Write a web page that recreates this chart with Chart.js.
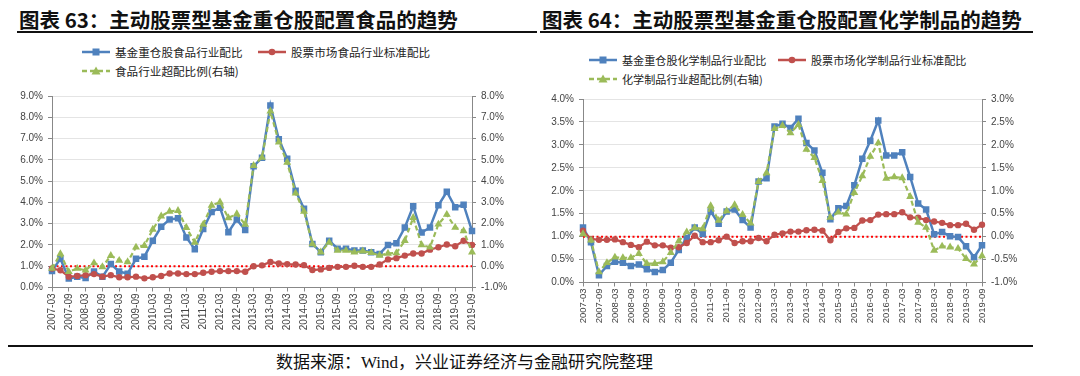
<!DOCTYPE html>
<html>
<head>
<meta charset="utf-8">
<script src="https://cdn.jsdelivr.net/npm/chart.js@4.4.0/dist/chart.umd.min.js"></script>
<style>
  body { margin: 0; width: 1080px; height: 376px; background: #fff; position: relative; overflow: hidden;
         font-family: "Noto Sans CJK SC", sans-serif; }
  .title { position: absolute; top: 5px; font-size: 20.5px; font-weight: 700; color: #111; white-space: nowrap; line-height: 28px; }
  .rule { position: absolute; height: 2px; background: #111; }
  .leg { position: absolute; display: flex; align-items: center; white-space: nowrap; color: #222; height: 16px; }
  .leg svg { margin-right: 5px; }
  .box { position: absolute; }
  .source { position: absolute; left: 276px; top: 348px; font-size: 17px; color: #111; white-space: nowrap;
            font-family: "Liberation Serif", "Noto Sans CJK SC", serif; }
</style>
</head>
<body>
<div class="title" style="left:19px">图表 63：主动股票型基金重仓股配置食品的趋势</div>
<div class="title" style="left:542px">图表 64：主动股票型基金重仓股配置化学制品的趋势</div>
<div class="rule" style="left:17px; top:31px; width:520px"></div>
<div class="rule" style="left:540px; top:31px; width:493px"></div>
<div class="rule" style="left:8px; top:345px; width:1025px"></div>
<div id="legends"></div>
<div class="box" style="left:0; top:85px"><canvas id="food" width="535" height="260"></canvas></div>
<div class="box" style="left:540px; top:88px"><canvas id="chem" width="540" height="258"></canvas></div>
<div class="source">数据来源：Wind，兴业证券经济与金融研究院整理</div>

<script>
// quarterly categories, 2007-03 .. 2019-09
const quarters = [
  '2007-03','2007-06','2007-09','2007-12','2008-03','2008-06','2008-09','2008-12',
  '2009-03','2009-06','2009-09','2009-12','2010-03','2010-06','2010-09','2010-12',
  '2011-03','2011-06','2011-09','2011-12','2012-03','2012-06','2012-09','2012-12',
  '2013-03','2013-06','2013-09','2013-12','2014-03','2014-06','2014-09','2014-12',
  '2015-03','2015-06','2015-09','2015-12','2016-03','2016-06','2016-09','2016-12',
  '2017-03','2017-06','2017-09','2017-12','2018-03','2018-06','2018-09','2018-12',
  '2019-03','2019-06','2019-09'
];

// 食品 (%)
const foodFund = [0.78,1.35,0.42,0.5,0.45,0.75,0.5,1.1,0.75,0.65,1.35,1.45,2.2,2.85,3.2,3.25,2.35,1.8,2.75,3.55,
  3.75,2.6,3.2,2.7,5.7,6.1,8.55,6.97,6.05,4.55,3.7,2.05,1.66,2.2,1.82,1.82,1.74,1.74,1.66,1.58,
  2.0,2.08,2.82,3.82,2.58,2.82,3.86,4.5,3.77,3.89,2.66];
const foodMarket = [0.89,0.81,0.51,0.54,0.58,0.63,0.51,0.58,0.48,0.48,0.51,0.43,0.48,0.54,0.66,0.66,0.63,0.63,0.69,0.74,
  0.77,0.77,0.77,0.74,1.0,1.04,1.2,1.13,1.1,1.08,1.05,0.82,0.85,0.92,0.97,0.97,1.02,0.97,0.97,1.08,
  1.32,1.38,1.5,1.6,1.6,1.78,1.89,2.02,1.94,2.2,2.0];
const foodOver = [-0.11,0.58,-0.26,-0.11,-0.19,0.15,-0.03,0.5,0.27,0.2,0.89,0.97,1.73,2.35,2.58,2.61,1.81,1.12,1.96,2.86,
  3.01,2.27,2.46,1.96,4.73,5.11,7.28,5.83,4.88,3.43,2.58,1.05,0.66,1.12,0.74,0.74,0.66,0.71,0.63,0.51,
  0.6,0.62,1.2,2.28,1.0,0.89,1.97,2.43,1.82,1.66,0.66];

// 化学制品 (%)
const chemFund = [1.2,0.88,0.16,0.36,0.45,0.43,0.36,0.39,0.29,0.23,0.27,0.43,0.71,0.97,1.2,1.06,1.55,1.28,1.55,1.59,
  1.36,1.2,2.2,2.27,3.4,3.46,3.37,3.57,3.04,2.88,2.39,1.38,1.62,1.67,2.12,2.7,3.09,3.53,2.77,2.77,
  2.84,2.3,1.72,1.59,1.05,1.1,1.01,0.99,0.79,0.55,0.81];
const chemMarket = [1.13,0.95,0.93,0.93,0.94,0.88,0.82,0.77,0.89,0.81,0.81,0.76,0.77,0.86,1.02,0.88,0.88,0.92,1.0,0.86,
  0.9,0.9,0.97,0.9,1.04,1.07,1.11,1.11,1.14,1.15,1.13,0.92,1.1,1.18,1.19,1.35,1.36,1.48,1.49,1.49,
  1.53,1.42,1.41,1.36,1.33,1.3,1.25,1.25,1.28,1.15,1.26];
const chemOver = [0.06,-0.08,-0.77,-0.57,-0.45,-0.46,-0.46,-0.37,-0.59,-0.59,-0.55,-0.35,-0.1,0.1,0.19,0.17,0.67,0.35,0.56,0.69,
  0.48,0.29,1.2,1.39,2.35,2.42,2.26,2.44,1.9,1.72,1.22,0.42,0.53,0.49,0.96,1.32,1.75,2.04,1.27,1.3,
  1.28,0.87,0.31,0.2,-0.3,-0.21,-0.23,-0.26,-0.48,-0.6,-0.42];

const foodNames = ['基金重仓股食品行业配比', '股票市场食品行业标准配比', '食品行业超配比例(右轴)'];
const chemNames = ['基金重仓股化学制品行业配比', '股票市场化学制品行业标准配比', '化学制品行业超配比例(右轴)'];

const refValue = 0; // red dotted line on the right axis

const BLUE = '#4f81bd', RED = '#c0504d', GREEN = '#9bbb59';

// legend swatches
function swatch(kind) {
  if (kind === 0) return `<svg width="28" height="10"><line x1="0" y1="5" x2="28" y2="5" stroke="${BLUE}" stroke-width="2.5"/><rect x="10.5" y="1.5" width="7" height="7" fill="${BLUE}"/></svg>`;
  if (kind === 1) return `<svg width="28" height="10"><line x1="0" y1="5" x2="28" y2="5" stroke="${RED}" stroke-width="2.5"/><circle cx="14" cy="5" r="3.3" fill="${RED}"/></svg>`;
  return `<svg width="28" height="10"><line x1="0" y1="5" x2="28" y2="5" stroke="${GREEN}" stroke-width="2.5" stroke-dasharray="5,3"/><polygon points="14,0.5 18.5,8.5 9.5,8.5" fill="${GREEN}"/></svg>`;
}
function addLegend(names, spots, size) {
  const host = document.getElementById('legends');
  names.forEach((n, i) => {
    const d = document.createElement('div');
    d.className = 'leg';
    d.style.left = spots[i][0] + 'px';
    d.style.top = (spots[i][1] - 8) + 'px';
    d.style.fontSize = size + 'px';
    d.innerHTML = swatch(i) + '<span>' + n + '</span>';
    host.appendChild(d);
  });
}
addLegend(foodNames, [[82, 52], [258, 52], [82, 71]], 11.6);
addLegend(chemNames, [[589, 60], [778, 60], [589, 79]], 11.1);

const refLine = {
  id: 'refLine',
  beforeDatasetsDraw(chart) {
    const { ctx, chartArea: a } = chart;
    const yy = chart.scales.y1.getPixelForValue(refValue);
    ctx.save();
    ctx.strokeStyle = '#ff0000';
    ctx.lineWidth = 2;
    ctx.setLineDash([2, 2.5]);
    ctx.beginPath();
    ctx.moveTo(a.left, yy);
    ctx.lineTo(a.right, yy);
    ctx.stroke();
    ctx.restore();
  }
};

function makeChart(id, c) {
  const tickFont = { family: 'Liberation Sans', size: 10 };
  return new Chart(document.getElementById(id), {
    type: 'line',
    data: {
      labels: quarters,
      datasets: [
        { label: c.names[0], data: c.fund, yAxisID: 'y', borderColor: BLUE, backgroundColor: BLUE,
          borderWidth: 2.5, pointStyle: 'rect', pointRadius: 4.6, pointBorderWidth: 0, order: 2 },
        { label: c.names[1], data: c.market, yAxisID: 'y', borderColor: RED, backgroundColor: RED,
          borderWidth: 2.2, pointStyle: 'circle', pointRadius: 3.2, pointBorderWidth: 0, order: 1 },
        { label: c.names[2], data: c.over, yAxisID: 'y1', borderColor: GREEN, backgroundColor: GREEN,
          borderWidth: 2.2, borderDash: [5, 3], pointStyle: 'triangle', pointRadius: 4.6, pointBorderWidth: 0, order: 0 }
      ]
    },
    options: {
      responsive: false,
      animation: false,
      layout: { padding: { top: c.top, left: 0, right: 0, bottom: 0 } },
      plugins: { legend: { display: false }, tooltip: { enabled: false } },
      elements: { line: { tension: 0 } },
      scales: {
        x: {
          offset: false,
          grid: { drawOnChartArea: false, tickLength: 4, tickColor: ctx => ctx.index % 2 ? 'rgba(0,0,0,0)' : '#888' },
          border: { color: '#888' },
          ticks: { autoSkip: false, minRotation: 90, maxRotation: 90, padding: 2, color: '#444',
                   font: { family: 'Liberation Sans', size: c.xFont },
                   callback: (v, i) => i % 2 ? '' : quarters[i] },
          afterFit: s => { s.height = c.xH; }
        },
        y: {
          position: 'left', min: c.yMin, max: c.yMax,
          grid: { color: '#e4e4e4', tickLength: 4, tickColor: '#888' },
          border: { color: '#888' },
          ticks: { stepSize: c.step, padding: 5, color: '#444', font: tickFont, callback: v => v.toFixed(1) + '%' },
          afterFit: s => { s.width = c.yW; }
        },
        y1: {
          position: 'right', min: c.y1Min, max: c.y1Max,
          grid: { drawOnChartArea: false, tickLength: 4, tickColor: '#888' },
          border: { color: '#888' },
          ticks: { stepSize: c.step, padding: 5, color: '#444', font: tickFont, callback: v => v.toFixed(1) + '%' },
          afterFit: s => { s.width = c.y1W; }
        }
      }
    },
    plugins: [refLine]
  });
}

makeChart('food', {
  names: foodNames, fund: foodFund, market: foodMarket, over: foodOver,
  top: 7, xH: 57.5, yW: 52, y1W: 63, xFont: 10,
  yMin: 0, yMax: 9, y1Min: -1, y1Max: 8, step: 1
});
makeChart('chem', {
  names: chemNames, fund: chemFund, market: chemMarket, over: chemOver,
  top: 9, xH: 63.5, yW: 43, y1W: 98, xFont: 9.5,
  yMin: 0, yMax: 4, y1Min: -1, y1Max: 3, step: 0.5
});
</script>
</body>
</html>
